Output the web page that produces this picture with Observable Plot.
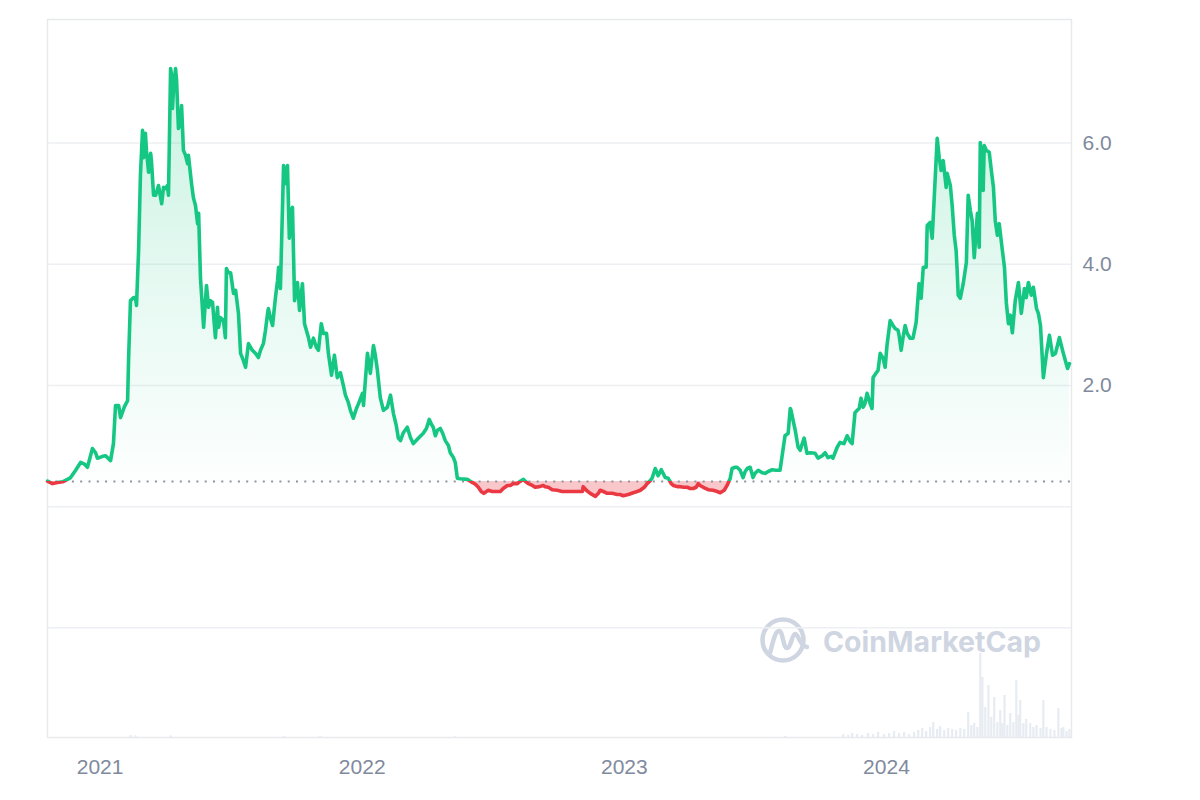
<!DOCTYPE html>
<html>
<head>
<meta charset="utf-8">
<script src="https://cdn.jsdelivr.net/npm/d3@7"></script>
<script src="https://cdn.jsdelivr.net/npm/@observablehq/plot@0.6"></script>
<style>
  html, body { margin: 0; padding: 0; background: #ffffff; }
  #wrap { position: relative; width: 1200px; height: 800px; }
  #wrap > svg, #wrap > div { position: absolute; left: 0; top: 0; }
</style>
</head>
<body>
<div id="wrap"></div>
<script>
// ---- Data (decimal year, price) ----
const price2020 = [[2020.800,0.42],[2020.819,0.38],[2020.838,0.40],[2020.857,0.41],[2020.876,0.45],[2020.888,0.48],[2020.907,0.60],[2020.926,0.73],[2020.941,0.70],[2020.952,0.65],[2020.971,0.96],[2020.983,0.89],[2020.990,0.80]];
const price2021 = [[2021.010,0.83],[2021.021,0.84],[2021.040,0.76],[2021.051,1.04],[2021.059,1.67],[2021.071,1.67],[2021.078,1.47],[2021.093,1.65],[2021.105,1.75],[2021.109,2.46],[2021.116,3.40],[2021.128,3.45],[2021.135,3.45],[2021.139,3.32],[2021.147,4.23],[2021.154,5.47],[2021.162,6.21],[2021.166,5.76],[2021.173,6.16],[2021.177,5.88],[2021.185,5.52],[2021.193,5.83],[2021.196,5.71],[2021.204,5.14],[2021.212,5.14],[2021.223,5.30],[2021.235,5.00],[2021.242,5.27],[2021.250,5.25],[2021.257,5.30],[2021.261,5.14],[2021.269,7.23],[2021.273,7.12],[2021.276,6.57],[2021.280,6.87],[2021.288,7.23],[2021.292,7.03],[2021.299,6.24],[2021.307,6.37],[2021.311,6.62],[2021.318,5.88],[2021.326,5.80],[2021.334,5.66],[2021.337,5.80],[2021.349,5.33],[2021.356,5.10],[2021.364,4.97],[2021.372,4.67],[2021.376,4.84],[2021.383,3.78],[2021.395,2.96],[2021.406,3.65],[2021.414,3.29],[2021.421,3.40],[2021.429,3.37],[2021.440,2.79],[2021.448,3.29],[2021.452,2.96],[2021.459,3.12],[2021.471,3.07],[2021.478,2.79],[2021.482,3.93],[2021.490,3.86],[2021.498,3.86],[2021.509,3.52],[2021.517,3.57],[2021.528,3.19],[2021.536,2.53],[2021.547,2.41],[2021.555,2.30],[2021.566,2.69],[2021.581,2.58],[2021.593,2.53],[2021.604,2.46],[2021.612,2.58],[2021.623,2.69],[2021.631,2.91],[2021.639,3.19],[2021.642,3.27],[2021.650,3.11],[2021.658,2.99],[2021.669,3.45],[2021.677,3.73],[2021.681,3.95],[2021.688,3.60],[2021.700,5.63],[2021.707,5.33],[2021.715,5.63],[2021.722,4.43],[2021.730,4.89],[2021.734,4.94],[2021.742,3.40],[2021.753,3.70],[2021.761,3.24],[2021.772,3.68],[2021.780,3.02],[2021.787,2.91],[2021.795,2.79],[2021.803,2.63],[2021.814,2.78],[2021.825,2.63],[2021.833,2.58],[2021.844,3.02],[2021.852,2.86],[2021.864,2.86],[2021.871,2.53],[2021.883,2.17],[2021.894,2.50],[2021.905,2.13],[2021.917,2.21],[2021.928,2.00],[2021.936,1.84],[2021.947,1.72],[2021.955,1.59],[2021.966,1.46],[2021.978,1.62],[2021.986,1.70]];
const price2022 = [[2022.001,1.87],[2022.005,1.67],[2022.012,2.08],[2022.020,2.53],[2022.031,2.20],[2022.043,2.66],[2022.050,2.50],[2022.058,2.25],[2022.069,1.80],[2022.081,1.59],[2022.096,1.64],[2022.108,1.84],[2022.119,1.54],[2022.130,1.34],[2022.138,1.13],[2022.146,1.09],[2022.157,1.22],[2022.172,1.31],[2022.184,1.14],[2022.195,1.04],[2022.214,1.13],[2022.233,1.21],[2022.245,1.29],[2022.256,1.44],[2022.264,1.36],[2022.271,1.31],[2022.279,1.17],[2022.287,1.26],[2022.298,1.29],[2022.306,1.22],[2022.317,1.09],[2022.329,1.01],[2022.336,0.89],[2022.348,0.81],[2022.355,0.73],[2022.363,0.47],[2022.374,0.46],[2022.401,0.45],[2022.420,0.40],[2022.432,0.37],[2022.443,0.32],[2022.454,0.25],[2022.464,0.22],[2022.474,0.25],[2022.481,0.27],[2022.496,0.25],[2022.512,0.25],[2022.527,0.25],[2022.538,0.30],[2022.554,0.35],[2022.565,0.35],[2022.576,0.38],[2022.592,0.38],[2022.603,0.42],[2022.615,0.45],[2022.622,0.42],[2022.634,0.38],[2022.649,0.35],[2022.660,0.32],[2022.676,0.33],[2022.691,0.35],[2022.698,0.33],[2022.710,0.32],[2022.725,0.28],[2022.744,0.27],[2022.763,0.25],[2022.782,0.25],[2022.801,0.25],[2022.820,0.25],[2022.840,0.25],[2022.843,0.33],[2022.855,0.27],[2022.870,0.22],[2022.890,0.17],[2022.901,0.22],[2022.908,0.27],[2022.920,0.25],[2022.935,0.22],[2022.954,0.22],[2022.973,0.20],[2022.984,0.20],[2022.996,0.18]];
const price2023 = [[2023.015,0.20],[2023.034,0.23],[2023.049,0.25],[2023.061,0.27],[2023.076,0.32],[2023.087,0.38],[2023.099,0.43],[2023.106,0.47],[2023.118,0.63],[2023.129,0.51],[2023.141,0.61],[2023.148,0.55],[2023.156,0.48],[2023.167,0.47],[2023.179,0.38],[2023.187,0.35],[2023.202,0.33],[2023.213,0.33],[2023.228,0.32],[2023.240,0.32],[2023.251,0.30],[2023.263,0.30],[2023.274,0.32],[2023.282,0.38],[2023.289,0.35],[2023.301,0.32],[2023.320,0.28],[2023.339,0.27],[2023.354,0.25],[2023.366,0.23],[2023.381,0.27],[2023.392,0.35],[2023.404,0.47],[2023.411,0.63],[2023.423,0.65],[2023.430,0.65],[2023.442,0.60],[2023.453,0.48],[2023.461,0.58],[2023.469,0.63],[2023.480,0.65],[2023.491,0.48],[2023.499,0.55],[2023.511,0.60],[2023.526,0.56],[2023.537,0.55],[2023.549,0.58],[2023.564,0.61],[2023.579,0.60],[2023.594,0.60],[2023.602,0.84],[2023.613,1.17],[2023.625,1.21],[2023.633,1.62],[2023.636,1.59],[2023.644,1.42],[2023.652,1.26],[2023.663,0.98],[2023.671,0.93],[2023.678,1.03],[2023.686,1.13],[2023.697,0.88],[2023.709,0.89],[2023.728,0.88],[2023.739,0.80],[2023.755,0.84],[2023.766,0.89],[2023.777,0.81],[2023.789,0.83],[2023.796,0.80],[2023.812,0.98],[2023.823,1.06],[2023.838,1.04],[2023.850,1.17],[2023.861,1.08],[2023.869,1.04],[2023.880,1.55],[2023.888,1.59],[2023.896,1.62],[2023.903,1.79],[2023.911,1.64],[2023.918,1.70],[2023.926,1.87],[2023.938,1.70],[2023.945,1.62],[2023.949,2.13],[2023.960,2.20],[2023.968,2.25],[2023.976,2.53],[2023.987,2.45],[2023.995,2.30]];
const price2024 = [[2024.002,2.66],[2024.014,3.07],[2024.025,2.99],[2024.033,2.94],[2024.044,2.91],[2024.048,2.83],[2024.056,2.58],[2024.063,2.79],[2024.071,2.99],[2024.079,2.86],[2024.090,2.78],[2024.101,2.78],[2024.113,3.04],[2024.124,3.68],[2024.132,3.44],[2024.140,3.95],[2024.151,3.95],[2024.155,4.64],[2024.166,4.69],[2024.174,4.43],[2024.185,5.38],[2024.193,6.08],[2024.201,5.75],[2024.208,5.55],[2024.216,5.71],[2024.227,5.27],[2024.231,5.50],[2024.243,5.30],[2024.250,4.97],[2024.258,4.48],[2024.265,4.23],[2024.269,3.90],[2024.273,3.49],[2024.281,3.44],[2024.292,3.68],[2024.304,4.03],[2024.311,5.14],[2024.319,4.89],[2024.326,4.72],[2024.334,4.11],[2024.346,4.84],[2024.353,4.28],[2024.357,6.01],[2024.365,5.55],[2024.368,5.22],[2024.372,5.96],[2024.380,5.88],[2024.391,5.85],[2024.399,5.55],[2024.407,5.27],[2024.414,4.72],[2024.422,4.48],[2024.429,4.67],[2024.441,4.23],[2024.449,3.95],[2024.456,3.37],[2024.464,3.02],[2024.471,3.16],[2024.479,2.87],[2024.490,3.40],[2024.502,3.70],[2024.513,3.19],[2024.525,3.60],[2024.532,3.45],[2024.540,3.70],[2024.551,3.49],[2024.559,3.62],[2024.571,3.27],[2024.578,3.19],[2024.586,2.99],[2024.597,2.13],[2024.609,2.53],[2024.620,2.83],[2024.632,2.50],[2024.643,2.53],[2024.658,2.79],[2024.670,2.58],[2024.673,2.53],[2024.689,2.28],[2024.696,2.36]];

// Trading volume (decimal year, volume in $M)
const volumeEarly = [[2021.116,10],[2021.135,8],[2021.269,8],[2021.700,6],[2021.840,5],[2022.355,4],[2023.613,6]];
const volumeLate = [[2023.835,15],[2023.854,10],[2023.869,20],[2023.888,15],[2023.907,10],[2023.930,20],[2023.949,15],[2023.968,25],[2023.991,15],[2024.010,20],[2024.029,30],[2024.048,20],[2024.067,25],[2024.086,15],[2024.105,25],[2024.121,35],[2024.136,45],[2024.151,30],[2024.166,50],[2024.178,75],[2024.193,40],[2024.204,55],[2024.220,35],[2024.235,45],[2024.250,40],[2024.265,35],[2024.281,45],[2024.296,40],[2024.311,125],[2024.323,60],[2024.334,70],[2024.346,50],[2024.357,420],[2024.365,300],[2024.376,150],[2024.388,260],[2024.399,100],[2024.410,200],[2024.422,75],[2024.433,135],[2024.441,70],[2024.449,210],[2024.460,60],[2024.471,120],[2024.483,75],[2024.494,285],[2024.502,110],[2024.509,185],[2024.521,70],[2024.532,90],[2024.547,70],[2024.559,50],[2024.571,60],[2024.586,45],[2024.597,185],[2024.609,50],[2024.624,40],[2024.639,35],[2024.654,145],[2024.666,45],[2024.673,50],[2024.685,30],[2024.696,40]];

const baseline = 0.416;              // opening price (dotted reference line)
const timeRange = [2020.800, 2024.704];
const priceRange = [-3.81, 8.04];
const gridValues = [-2, 0, 2, 4, 6];
const priceTicks = [2, 4, 6];

// ---- Helpers ----
const toDate = t => {
  const y = Math.floor(t);
  const s = Date.UTC(y, 0, 1), e = Date.UTC(y + 1, 0, 1);
  return new Date(s + (t - y) * (e - s));
};
const price = [...price2020, ...price2021, ...price2022, ...price2023, ...price2024]
  .map(([t, v]) => ({date: toDate(t), value: v}));
const volume = [...volumeEarly, ...volumeLate].map(([t, v]) => ({date: toDate(t), volume: v}));

const W = 1200, H = 800;
const margins = {marginLeft: 47, marginRight: 129, marginTop: 19, marginBottom: 63};
const green = "#16c784", red = "#ea3943";
const font = "'Liberation Sans', Arial, Helvetica, sans-serif";
const xDomain = timeRange.map(toDate);

const wrap = document.getElementById("wrap");

// ---- Volume layer (bottom) ----
const maxVol = d3.max(volume, d => d.volume);
const volPlot = Plot.plot({
  width: W, height: H, ...margins,
  x: {type: "utc", domain: xDomain, axis: null},
  y: {domain: [0, maxVol / 0.117], axis: null},
  style: {background: "transparent"},
  marks: [
    Plot.ruleX(volume, {x: "date", y1: 0, y2: "volume", stroke: "#e7ecf2", strokeWidth: 2.2})
  ]
});
wrap.appendChild(volPlot);

// ---- Watermark ----
const wm = d3.select(wrap).append("svg")
  .attr("width", W).attr("height", H)
  .style("position", "absolute").style("left", 0).style("top", 0);
wm.append("circle").attr("cx", 783).attr("cy", 640).attr("r", 20.5)
  .attr("fill", "none").attr("stroke", "#cfd6e2").attr("stroke-width", 4.5);
wm.append("path")
  .attr("d", "M770,653 C773,642 775,631 779,631 C783,631 783,648 787,648 C791,648 792,634 795,634 C799,634 799,646 807,647")
  .attr("fill", "none").attr("stroke", "#cfd6e2").attr("stroke-width", 4.5).attr("stroke-linecap", "round");
wm.append("text").attr("x", 823).attr("y", 652)
  .attr("font-family", "Inter, 'Noto Sans', sans-serif").attr("font-weight", 700)
  .attr("font-size", 28.5).attr("fill", "#cfd6e2").text("CoinMarketCap");

// ---- Price layer (top) ----
const chart = Plot.plot({
  width: W, height: H, ...margins,
  x: {type: "utc", domain: xDomain, ticks: d3.utcYear.every(1), tickFormat: d3.utcFormat("%Y"),
      tickSize: 0, tickPadding: 22, label: null},
  y: {domain: priceRange, axis: "right", ticks: priceTicks, tickFormat: d => d.toFixed(1),
      tickSize: 0, tickPadding: 11, label: null},
  style: {background: "transparent", fontFamily: font, fontSize: "21px", color: "#808a9d", overflow: "visible"},
  marks: [
    Plot.ruleY(gridValues, {stroke: "#eeeff2", strokeWidth: 1.5}),
    Plot.frame({stroke: "#e8e9ec", strokeWidth: 1.5}),
    Plot.areaY(price, {x: "date", y1: baseline, y2: "value", fill: "url(#areaGrad)"}),
    Plot.ruleY([baseline], {stroke: "#8f95a0", strokeWidth: 2, strokeDasharray: "2,6.3"}),
    Plot.line(price, {x: "date", y: "value", stroke: "url(#lineGrad)", strokeWidth: 3.6,
                      strokeLinejoin: "round", strokeLinecap: "round"})
  ]
});
wrap.appendChild(chart);

// gradients keyed on the baseline pixel from the plot's own y scale
const yScale = chart.scale("y");
const bp = yScale.apply(baseline);
const topPx = yScale.apply(priceRange[1]);
const midPx = yScale.apply(4);
const svg = d3.select(chart);
const defs = svg.insert("defs", ":first-child");
const lg = defs.append("linearGradient").attr("id", "lineGrad")
  .attr("gradientUnits", "userSpaceOnUse").attr("x1", 0).attr("y1", 0).attr("x2", 0).attr("y2", H);
lg.append("stop").attr("offset", 0).attr("stop-color", green);
lg.append("stop").attr("offset", bp / H).attr("stop-color", green);
lg.append("stop").attr("offset", bp / H).attr("stop-color", red);
lg.append("stop").attr("offset", 1).attr("stop-color", red);
const ag = defs.append("linearGradient").attr("id", "areaGrad")
  .attr("gradientUnits", "userSpaceOnUse").attr("x1", 0).attr("y1", 0).attr("x2", 0).attr("y2", H);
ag.append("stop").attr("offset", topPx / H).attr("stop-color", green).attr("stop-opacity", 0.26);
ag.append("stop").attr("offset", midPx / H).attr("stop-color", green).attr("stop-opacity", 0.12);
ag.append("stop").attr("offset", bp / H).attr("stop-color", green).attr("stop-opacity", 0.01);
ag.append("stop").attr("offset", bp / H).attr("stop-color", red).attr("stop-opacity", 0.28);
ag.append("stop").attr("offset", 1).attr("stop-color", red).attr("stop-opacity", 0.28);
</script>
</body>
</html>
